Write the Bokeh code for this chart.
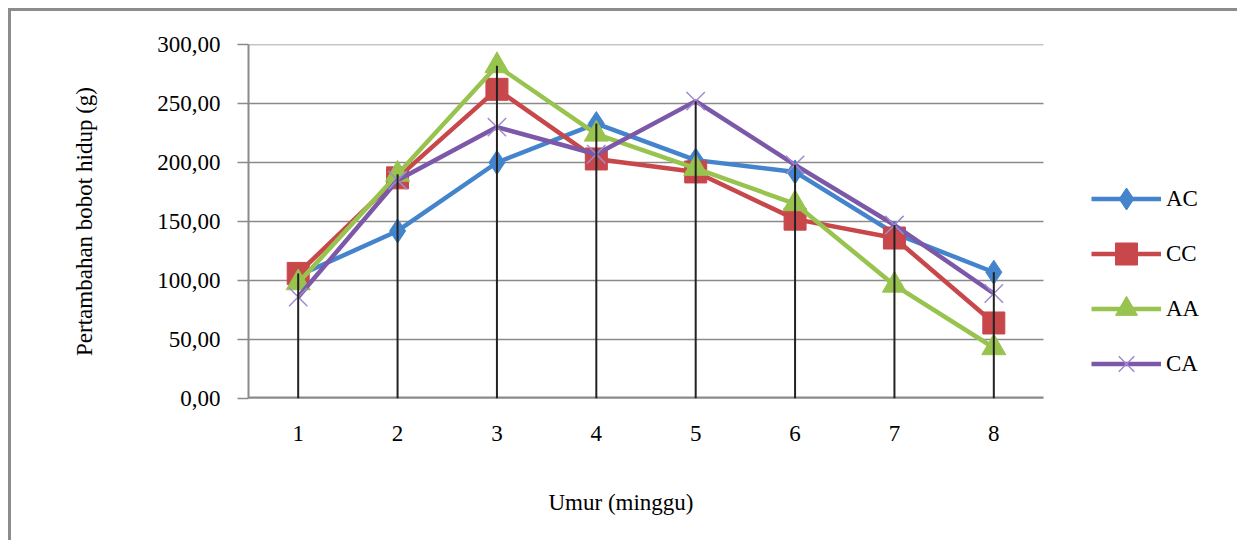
import numpy as np
from bokeh.plotting import figure
from bokeh.models import Legend, LegendItem, ColumnDataSource, FixedTicker, Range1d, Title
from bokeh.embed import file_html
from bokeh.resources import INLINE

weeks = [1, 2, 3, 4, 5, 6, 7, 8]
AC = [104, 142, 200, 233, 202, 192, 140, 107]
CC = [106, 187, 262, 203, 192, 152, 136, 64]
AA = [98, 190, 282, 224, 195, 165, 96, 43]
CA = [86, 185, 230, 207, 252, 198, 147, 89]
y_ticks = [0, 50, 100, 150, 200, 250, 300]

FONT = "Liberation Serif"
BORDER = "#8c8c8c"
GRID = "#8a8a8a"

# plot area spans 8 categories over 795 px; the frame extends to the right edge
# so that the legend can sit beside it without being clipped
cat_px = 795 / 8
frame_w = 1237 - 248
x_end = 0.5 + frame_w / cat_px

p = figure(width=1237, height=540, output_backend="svg", toolbar_location=None,
           x_range=Range1d(0.5, x_end), y_range=Range1d(0, 300),
           min_border_left=248, min_border_right=0, min_border_top=44, min_border_bottom=142)
p.styles = {
    "background": (f"linear-gradient({BORDER},{BORDER}) 8px 8px / 3px 100% no-repeat, "
                   f"linear-gradient({BORDER},{BORDER}) 8px 8px / 100% 3px no-repeat, white"),
}
p.outline_line_color = None
p.background_fill_color = "white"
p.border_fill_alpha = 0

p.xgrid.grid_line_color = None
p.ygrid.grid_line_color = None
p.yaxis.ticker = FixedTicker(ticks=y_ticks)
p.yaxis.major_label_overrides = {t: f"{t:.2f}".replace(".", ",") for t in y_ticks}
p.xaxis.ticker = FixedTicker(ticks=weeks)

for ax in (p.xaxis, p.yaxis):
    ax.axis_line_color = GRID
    ax.axis_line_width = 2
    ax.major_tick_line_color = GRID
    ax.major_tick_line_width = 1.5
    ax.minor_tick_line_color = None
    ax.major_label_text_font = FONT
    ax.major_label_text_font_size = "23px"
    ax.major_label_text_color = "black"
    ax.axis_label_text_font = FONT
    ax.axis_label_text_font_size = "23px"
    ax.axis_label_text_font_style = "normal"
    ax.axis_label_text_color = "black"

p.xaxis.axis_line_color = None
p.xaxis.major_tick_out = 0
p.xaxis.major_tick_in = 0
p.xaxis.major_label_standoff = 27

p.yaxis.major_tick_out = 11
p.yaxis.major_tick_in = 0
p.yaxis.major_label_standoff = 17
p.yaxis.axis_label = "Pertambahan bobot hidup (g)"
p.yaxis.axis_label_standoff = 57

# horizontal gridlines and x axis line, limited to the category span
x_lo, x_hi = 0.5, len(weeks) + 0.5
p.segment(x0=[x_lo] * len(y_ticks), x1=[x_hi] * len(y_ticks), y0=y_ticks, y1=y_ticks,
          line_color=GRID, line_width=1.5)
p.segment(x0=[x_lo], x1=[x_hi], y0=[0], y1=[0], line_color=GRID, line_width=4)

xlabel = Title(text="\nUmur (minggu)", align="left", offset=300, standoff=38,
               text_font=FONT, text_font_size="23px", text_font_style="normal",
               text_color="black")
p.add_layout(xlabel, "below")

series = [
    ("AC", AC, "#4384cc", "diamond", 24),
    ("CC", CC, "#c8474a", "square", 22),
    ("AA", AA, "#98c34f", "triangle", 24),
    ("CA", CA, "#7c58a8", "x", 26),
]

items = []
for name, vals, col, marker, sz in series:
    src = ColumnDataSource(dict(x=weeks, y=vals))
    r1 = p.line("x", "y", source=src, line_color=col, line_width=4.5)
    if marker == "x":
        r2 = p.scatter("x", "y", source=src, marker="x", size=sz,
                       line_color="#a08ad0", line_width=1.5)
    else:
        r2 = p.scatter("x", "y", source=src, marker=marker, size=sz,
                       fill_color=col, line_color=col)
    items.append(LegendItem(label=name, renderers=[r1, r2]))

tops = np.max(np.array([AC, CC, AA, CA]), axis=0)
p.segment(x0=weeks, y0=[0] * len(weeks), x1=weeks, y1=list(tops),
          line_color="#222222", line_width=2)

legend = Legend(items=items, location=(843, 7), orientation="vertical",
                glyph_width=70, glyph_height=55, label_height=55, spacing=0,
                padding=5, margin=0, label_standoff=5,
                label_text_font=FONT, label_text_font_size="23px",
                label_text_color="black", border_line_color=None,
                background_fill_alpha=0)
p.add_layout(legend, "center")

open("out.html", "w").write(file_html(p, INLINE))
